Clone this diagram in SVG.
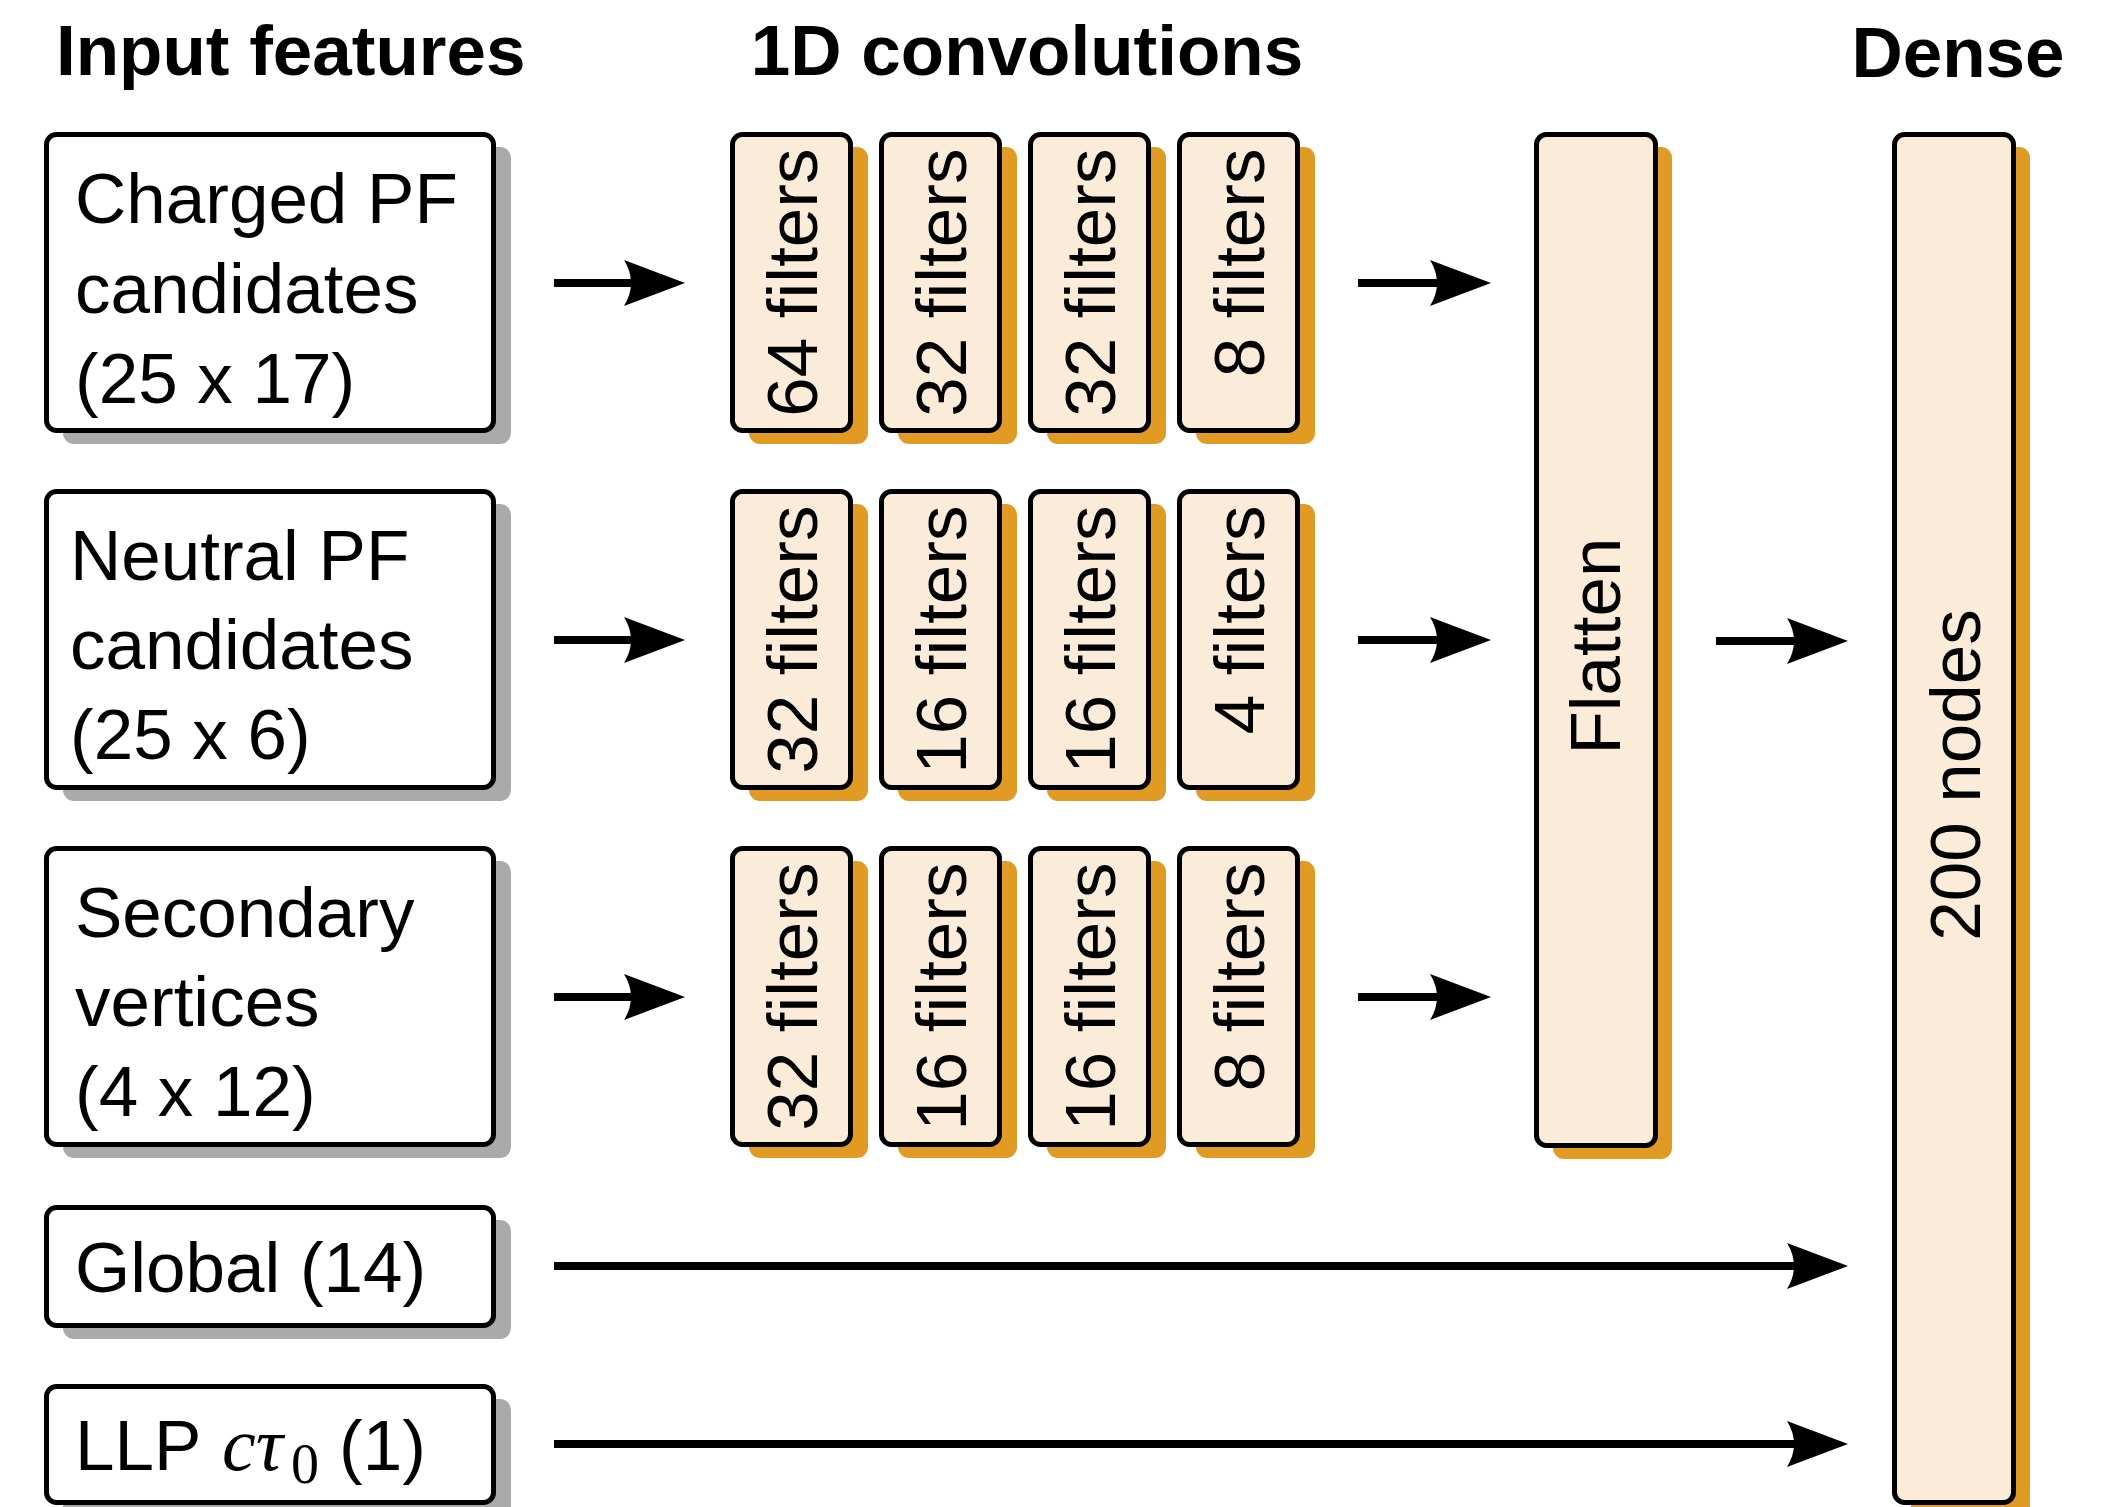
<svg xmlns="http://www.w3.org/2000/svg" width="2120" height="1507" viewBox="0 0 2120 1507">
<style>
.t{font-family:"Liberation Sans",Arial,Helvetica,sans-serif;font-size:71px;fill:#000}
.v{font-family:"Liberation Sans",Arial,Helvetica,sans-serif;font-size:71px;fill:#000;text-anchor:end}
.title{font-family:"Liberation Sans",Arial,Helvetica,sans-serif;font-size:71px;font-weight:bold;fill:#000}
.inbox{fill:#fff;stroke:#000;stroke-width:5}
.gshadow{fill:#aaaaaa}
.lbox{fill:#faecd9;stroke:#000;stroke-width:5}
.oshadow{fill:#e29b22}
.conn{stroke:#000;stroke-width:8;fill:none}
</style>
<defs>
<marker id="ah" viewBox="0 0 61 46" refX="31" refY="23" markerWidth="61" markerHeight="46" markerUnits="userSpaceOnUse" orient="auto">
<path d="M61,23 L0,0 Q14,23 0,46 Z" fill="#000"/>
</marker>
</defs>
<rect width="2120" height="1507" fill="#fff"/>

<g id="titles">
<text class="title" x="56" y="75">Input features</text>
<text class="title" x="1027" y="75" text-anchor="middle">1D convolutions</text>
<text class="title" x="1958" y="77" text-anchor="middle">Dense</text>
</g>

<g id="in-charged">
<rect class="gshadow" x="63" y="147" width="448" height="297" rx="11"/>
<rect class="inbox" x="46.5" y="134.5" width="447" height="296" rx="10"/>
<text class="t" x="75" y="223">Charged PF</text>
<text class="t" x="75" y="313">candidates</text>
<text class="t" x="75" y="403">(25 x 17)</text>
</g>
<g id="in-neutral">
<rect class="gshadow" x="63" y="504" width="448" height="297" rx="11"/>
<rect class="inbox" x="46.5" y="491.5" width="447" height="296" rx="10"/>
<text class="t" x="70" y="580">Neutral PF</text>
<text class="t" x="70" y="669">candidates</text>
<text class="t" x="70" y="759">(25 x 6)</text>
</g>
<g id="in-secondary">
<rect class="gshadow" x="63" y="861" width="448" height="297" rx="11"/>
<rect class="inbox" x="46.5" y="848.5" width="447" height="296" rx="10"/>
<text class="t" x="75" y="937">Secondary</text>
<text class="t" x="75" y="1026">vertices</text>
<text class="t" x="75" y="1116">(4 x 12)</text>
</g>
<g id="in-global">
<rect class="gshadow" x="63" y="1220" width="448" height="119" rx="11"/>
<rect class="inbox" x="46.5" y="1207.5" width="447" height="118" rx="10"/>
<text class="t" x="75" y="1292">Global (14)</text>
</g>
<g id="in-llp">
<rect class="gshadow" x="63" y="1399" width="448" height="130" rx="11"/>
<rect class="inbox" x="46.5" y="1386.5" width="447" height="116" rx="10"/>
<text class="t" x="75" y="1470">LLP</text>
<text x="222" y="1470" style="font-family:'Liberation Serif','Times New Roman',serif;font-style:italic;font-size:76px">cτ</text>
<text x="291" y="1483" style="font-family:'Liberation Serif','Times New Roman',serif;font-size:56px">0</text>
<text class="t" x="339" y="1470">(1)</text>
</g>

<g id="conv-r1c1"><rect class="oshadow" x="749" y="147" width="119" height="297" rx="11"/><rect class="lbox" x="732.5" y="134.5" width="118" height="296" rx="10"/><text class="v" transform="translate(817,148.5) rotate(-90)">64 filters</text></g>
<g id="conv-r1c2"><rect class="oshadow" x="898" y="147" width="119" height="297" rx="11"/><rect class="lbox" x="881.5" y="134.5" width="118" height="296" rx="10"/><text class="v" transform="translate(966,148.5) rotate(-90)">32 filters</text></g>
<g id="conv-r1c3"><rect class="oshadow" x="1047" y="147" width="119" height="297" rx="11"/><rect class="lbox" x="1030.5" y="134.5" width="118" height="296" rx="10"/><text class="v" transform="translate(1115,148.5) rotate(-90)">32 filters</text></g>
<g id="conv-r1c4"><rect class="oshadow" x="1196" y="147" width="119" height="297" rx="11"/><rect class="lbox" x="1179.5" y="134.5" width="118" height="296" rx="10"/><text class="v" transform="translate(1264,148.5) rotate(-90)">8 filters</text></g>

<g id="conv-r2c1"><rect class="oshadow" x="749" y="504" width="119" height="297" rx="11"/><rect class="lbox" x="732.5" y="491.5" width="118" height="296" rx="10"/><text class="v" transform="translate(817,505.5) rotate(-90)">32 filters</text></g>
<g id="conv-r2c2"><rect class="oshadow" x="898" y="504" width="119" height="297" rx="11"/><rect class="lbox" x="881.5" y="491.5" width="118" height="296" rx="10"/><text class="v" transform="translate(966,505.5) rotate(-90)">16 filters</text></g>
<g id="conv-r2c3"><rect class="oshadow" x="1047" y="504" width="119" height="297" rx="11"/><rect class="lbox" x="1030.5" y="491.5" width="118" height="296" rx="10"/><text class="v" transform="translate(1115,505.5) rotate(-90)">16 filters</text></g>
<g id="conv-r2c4"><rect class="oshadow" x="1196" y="504" width="119" height="297" rx="11"/><rect class="lbox" x="1179.5" y="491.5" width="118" height="296" rx="10"/><text class="v" transform="translate(1264,505.5) rotate(-90)">4 filters</text></g>

<g id="conv-r3c1"><rect class="oshadow" x="749" y="861" width="119" height="297" rx="11"/><rect class="lbox" x="732.5" y="848.5" width="118" height="296" rx="10"/><text class="v" transform="translate(817,862.5) rotate(-90)">32 filters</text></g>
<g id="conv-r3c2"><rect class="oshadow" x="898" y="861" width="119" height="297" rx="11"/><rect class="lbox" x="881.5" y="848.5" width="118" height="296" rx="10"/><text class="v" transform="translate(966,862.5) rotate(-90)">16 filters</text></g>
<g id="conv-r3c3"><rect class="oshadow" x="1047" y="861" width="119" height="297" rx="11"/><rect class="lbox" x="1030.5" y="848.5" width="118" height="296" rx="10"/><text class="v" transform="translate(1115,862.5) rotate(-90)">16 filters</text></g>
<g id="conv-r3c4"><rect class="oshadow" x="1196" y="861" width="119" height="297" rx="11"/><rect class="lbox" x="1179.5" y="848.5" width="118" height="296" rx="10"/><text class="v" transform="translate(1264,862.5) rotate(-90)">8 filters</text></g>

<g id="flatten">
<rect class="oshadow" x="1553" y="147" width="119" height="1012" rx="11"/>
<rect class="lbox" x="1536.5" y="134.5" width="119" height="1011" rx="10"/>
<text class="t" transform="translate(1620,646) rotate(-90)" text-anchor="middle">Flatten</text>
</g>
<g id="dense">
<rect class="oshadow" x="1911" y="147" width="119" height="1380" rx="11"/>
<rect class="lbox" x="1894.5" y="134.5" width="119" height="1368" rx="10"/>
<text class="t" transform="translate(1980,775) rotate(-90)" text-anchor="middle">200 nodes</text>
</g>

<g id="connectors">
<line class="conn" x1="554" y1="283" x2="655" y2="283" marker-end="url(#ah)"/>
<line class="conn" x1="554" y1="640" x2="655" y2="640" marker-end="url(#ah)"/>
<line class="conn" x1="554" y1="997" x2="655" y2="997" marker-end="url(#ah)"/>
<line class="conn" x1="1358" y1="283" x2="1461" y2="283" marker-end="url(#ah)"/>
<line class="conn" x1="1358" y1="640" x2="1461" y2="640" marker-end="url(#ah)"/>
<line class="conn" x1="1358" y1="997" x2="1461" y2="997" marker-end="url(#ah)"/>
<line class="conn" x1="1716" y1="641" x2="1818" y2="641" marker-end="url(#ah)"/>
<line class="conn" x1="554" y1="1266" x2="1818" y2="1266" marker-end="url(#ah)"/>
<line class="conn" x1="554" y1="1444" x2="1818" y2="1444" marker-end="url(#ah)"/>
</g>
</svg>
